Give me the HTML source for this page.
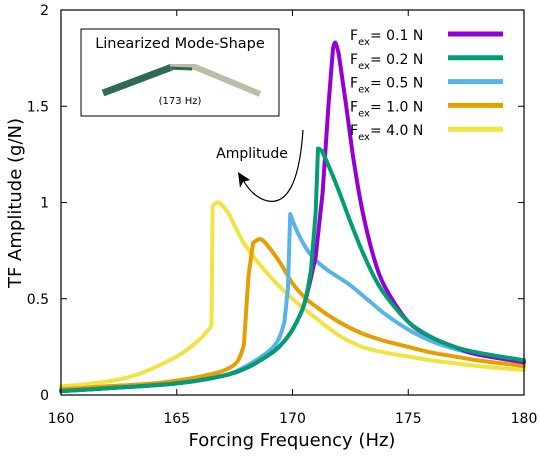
<!DOCTYPE html>
<html><head><meta charset="utf-8"><style>
body{margin:0;background:#fff}
svg text{font-family:"DejaVu Sans","Liberation Sans",sans-serif}
</style></head><body>
<svg id="c" width="540" height="458" viewBox="0 0 540 458">
<g id="axes"></g>
<g id="series" fill="none" stroke-width="4" stroke-linejoin="round" stroke-linecap="round"></g>
<rect x="61" y="10" width="463" height="385" fill="none" stroke="#000" stroke-width="1.2"/>
<g>
<rect x="81" y="29" width="198" height="87" fill="#fff" stroke="#000" stroke-width="1"/>
<text x="180" y="48" font-size="14.5" text-anchor="middle">Linearized Mode-Shape</text>
<path d="M103 93 L172 67" stroke="#2f6b52" stroke-width="7" fill="none"/>
<path d="M170 67 L195 67 L260 94" stroke="#bdbca8" stroke-width="6" fill="none"/>
<path d="M168 68 L192 69" stroke="#2f6b52" stroke-width="3" fill="none"/>
<text x="180" y="104" font-size="10" text-anchor="middle">(173 Hz)</text>
</g>
<g>
<text x="252" y="158" font-size="14" text-anchor="middle">Amplitude</text>
<path d="M303 130 C300 175 290 205 268 201 C258 199 250 192 243 180" stroke="#000" stroke-width="1.2" fill="none"/>
<path d="M238 172 L250 180 L243 182 L240 188 Z" fill="#000"/>
</g>
<g id="legend"></g>
<text x="292" y="446" font-size="18" text-anchor="middle">Forcing Frequency (Hz)</text>
<text transform="translate(21,203) rotate(-90)" font-size="18" text-anchor="middle">TF Amplitude (g/N)</text>
</svg>
<script>
const xTicks=[160,165,170,175,180];
const yTicks=[0,0.5,1,1.5,2];
const yTickLabels=["0","0.5","1","1.5","2"];
const seriesNames=["0.1","0.2","0.5","1.0","4.0"];
const seriesColors=["#9400d3","#009e73","#56b4e9","#e69f00","#f0e442"];
const f01x=[160,162,165,167,168,169,169.5,170,170.5,171,171.3,171.55,171.75,171.85,172,172.3,172.6,173,173.5,174,175,176,177,178,180];
const f01y=[0.02,0.035,0.06,0.1,0.14,0.21,0.26,0.34,0.47,0.72,1.05,1.5,1.8,1.83,1.77,1.52,1.25,0.97,0.72,0.56,0.38,0.3,0.25,0.21,0.17];
const f02x=[160,162,165,167,168,169,169.5,170,170.5,170.8,171,171.1,171.3,171.7,172,172.5,173,173.5,174,175,176,177,178,180];
const f02y=[0.02,0.035,0.06,0.1,0.14,0.21,0.26,0.34,0.47,0.65,0.95,1.28,1.26,1.15,1.06,0.9,0.75,0.62,0.52,0.38,0.3,0.25,0.22,0.18];
const f05x=[160,162,165,167,168,169,169.4,169.65,169.8,169.9,170.2,170.6,171,171.5,172,172.5,173,173.5,174,175,176,177,178,180];
const f05y=[0.02,0.035,0.06,0.1,0.15,0.23,0.29,0.38,0.55,0.94,0.85,0.76,0.7,0.65,0.61,0.57,0.52,0.47,0.42,0.34,0.28,0.24,0.21,0.17];
const f10x=[160,162,164,165,166,167,167.6,167.9,168.1,168.3,168.6,168.9,169.5,170,170.5,171,172,173,174,175,176,177,178,180];
const f10y=[0.03,0.045,0.06,0.075,0.095,0.125,0.17,0.26,0.62,0.79,0.81,0.78,0.68,0.58,0.51,0.46,0.38,0.32,0.28,0.25,0.22,0.2,0.18,0.15];
const f40x=[160,161,162,163,164,165,165.5,166,166.5,166.55,166.8,167.2,167.5,168,169,170,171,172,173,174,175,176,177,178,180];
const f40y=[0.045,0.055,0.07,0.095,0.14,0.2,0.24,0.29,0.36,0.98,1.0,0.95,0.88,0.77,0.62,0.5,0.4,0.31,0.25,0.22,0.2,0.18,0.165,0.15,0.13];
const allX=[f01x,f02x,f05x,f10x,f40x], allY=[f01y,f02y,f05y,f10y,f40y];
const L=61,R=524,T=10,B=395;
const sx=v=>L+(v-160)/20*(R-L), sy=v=>B-v/2*(B-T);
const NS="http://www.w3.org/2000/svg";
const ax=document.getElementById('axes');
function mk(tag,attrs,parent){const e=document.createElementNS(NS,tag);for(const k in attrs)e.setAttribute(k,attrs[k]);parent.appendChild(e);return e;}
function steep(a,b){return Math.abs(b[1]-a[1])>6*Math.abs(b[0]-a[0]);}
function smoothPath(X,Y){
 const p=X.map((v,j)=>[sx(v),sy(Y[j])]);
 let d=`M${p[0][0].toFixed(1)} ${p[0][1].toFixed(1)}`;
 for(let i=0;i<p.length-1;i++){
  const p0=p[Math.max(0,i-1)],p1=p[i],p2=p[i+1],p3=p[Math.min(p.length-1,i+2)];
  if(steep(p1,p2)){d+=`L${p2[0].toFixed(1)} ${p2[1].toFixed(1)}`;continue;}
  const t=0.16;
  let c1=steep(p0,p1)?p1.slice():[p1[0]+(p2[0]-p0[0])*t,p1[1]+(p2[1]-p0[1])*t];
  let c2=steep(p2,p3)?p2.slice():[p2[0]-(p3[0]-p1[0])*t,p2[1]-(p3[1]-p1[1])*t];
  c1[0]=Math.min(Math.max(c1[0],p1[0]),p2[0]);c2[0]=Math.min(Math.max(c2[0],p1[0]),p2[0]);
  d+=`C${c1[0].toFixed(1)} ${c1[1].toFixed(1)} ${c2[0].toFixed(1)} ${c2[1].toFixed(1)} ${p2[0].toFixed(1)} ${p2[1].toFixed(1)}`;
 }
 return d;
}
xTicks.forEach(t=>{const x=sx(t);
 const a=mk('path',{d:`M${x} ${B}v-6M${x} ${T}v6`,stroke:'#000','stroke-width':1},ax);
 
 
 const tx=mk('text',{x:x,y:B+28,'font-size':14,'text-anchor':'middle'},ax);tx.textContent=t;
 
 });
yTicks.forEach((t,i)=>{const y=sy(t);
 const a=mk('path',{d:`M${L} ${y}h6M${R} ${y}h-6`,stroke:'#000','stroke-width':1},ax);
 
 
 const tx=mk('text',{x:L-12,y:y+5,'font-size':14,'text-anchor':'end'},ax);tx.textContent=yTickLabels[i];
 
 });
const sg=document.getElementById('series');
[4,3,2,0,1].forEach(i=>{
 const p=mk('path',{d:smoothPath(allX[i],allY[i]),stroke:seriesColors[i]},sg);
 
 });
const lg=document.getElementById('legend');
seriesNames.forEach((n,i)=>{const y=34+i*23.8;
 const g=mk('g',{},lg);
 
 
 const t=mk('text',{x:350,y:y+6,'font-size':14},g);
 t.innerHTML=`F<tspan font-size="10" dy="5">ex</tspan><tspan dy="-5">= ${n} N</tspan>`;
 mk('line',{x1:448,x2:503,y1:y,y2:y,stroke:seriesColors[i],'stroke-width':5},g);});
</script>
</body></html>
